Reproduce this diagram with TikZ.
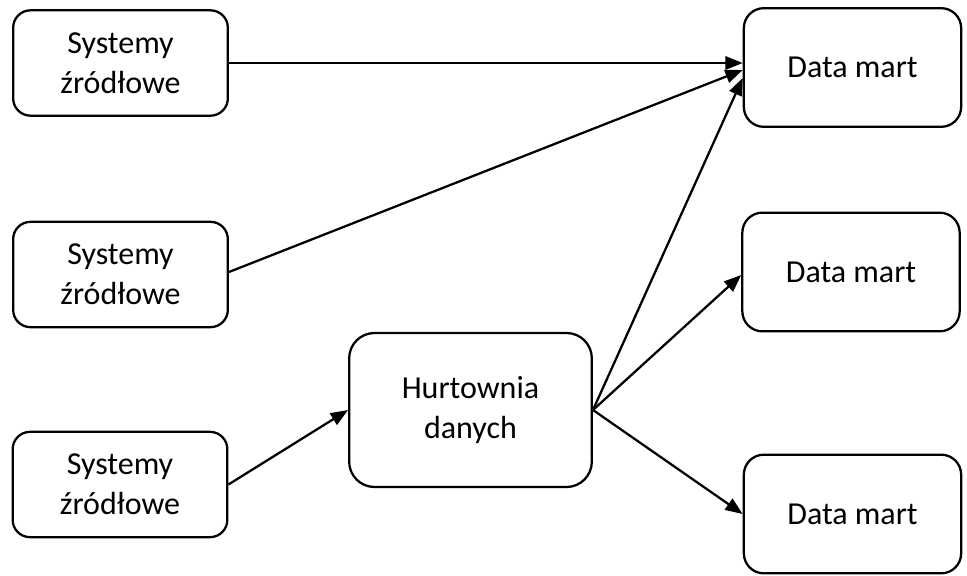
\documentclass[tikz,border=0pt]{standalone}
\usepackage{fontspec}
\setmainfont{Carlito}
\usetikzlibrary{arrows.meta,calc}
\begin{document}
\begin{tikzpicture}[x=0.75pt,y=-0.75pt,
  box/.style={draw, line width=1.7pt, align=center, inner sep=0pt,
    font=\fontsize{24}{30}\selectfont},
  srcbox/.style={box, minimum width=161pt, minimum height=79pt, rounded corners=13pt},
  martbox/.style={box, minimum width=163pt, minimum height=89pt, rounded corners=15pt},
  hubbox/.style={box, minimum width=182pt, minimum height=115.5pt, rounded corners=19pt},
  conn/.style={line width=1.7pt, -{Triangle[length=13pt,width=10pt]}}]
\useasboundingbox (0,0) rectangle (967,575);
\node[srcbox] (s1) at (120.5,63) {Systemy\\źródłowe};
\node[srcbox] (s2) at (120.5,274.5) {Systemy\\źródłowe};
\node[srcbox] (s3) at (120,484.5) {Systemy\\źródłowe};
\node[hubbox] (hw) at (470.5,410) {Hurtownia\\danych};
\node[martbox] (dm1) at (852.5,67.5) {Data mart};
\node[martbox] (dm2) at (851,272) {Data mart};
\node[martbox] (dm3) at (852.5,514) {Data mart};
\draw[conn] (s1.east) -- (s1.east -| dm1.west);
\draw[conn] ($(s2.east)+(0,-2.5)$) -- ($(dm1.west)+(0,2.5)$);
\draw[conn] (s3.east) -- (hw.west);
\draw[conn] (hw.east) -- ($(dm1.west)+(0,10.5)$);
\draw[conn] (hw.east) -- ($(dm2.west)+(0,3)$);
\draw[conn] (hw.east) -- (dm3.west);
\end{tikzpicture}
\end{document}
